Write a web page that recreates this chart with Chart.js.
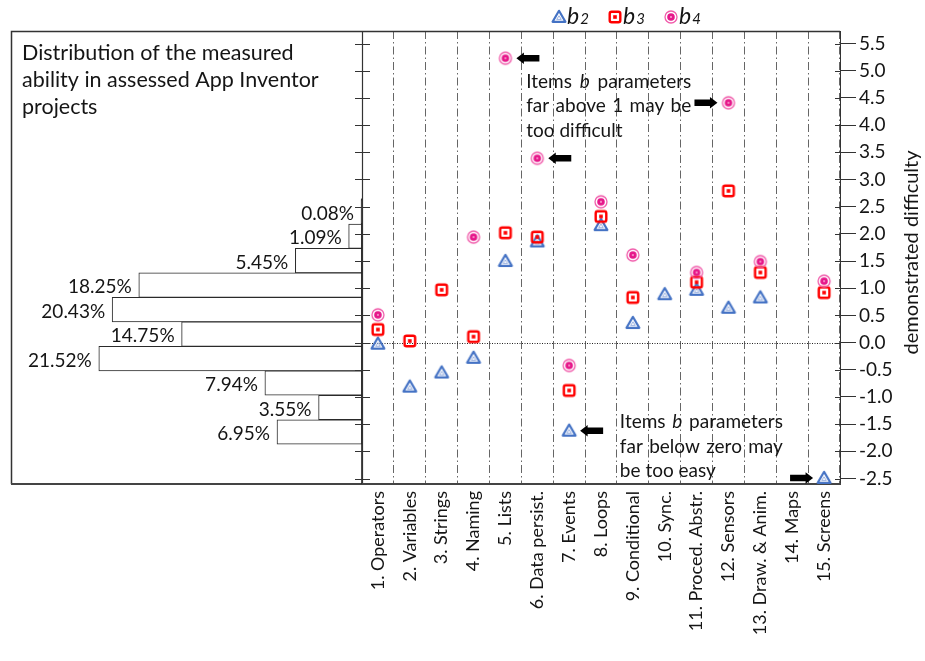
<!DOCTYPE html>
<html>
<head>
<meta charset="utf-8">
<script src="https://cdn.jsdelivr.net/npm/chart.js@4.4.0/dist/chart.umd.min.js"></script>
<style>
  html, body { margin: 0; padding: 0; background: #fff; }
  #wrap { position: relative; width: 925px; height: 661px; }
  #wrap canvas { position: absolute; left: 0; top: 0; }
</style>
</head>
<body>
<div id="wrap">
  <canvas id="histChart" width="925" height="661"></canvas>
  <canvas id="itemChart" width="925" height="661"></canvas>
</div>
<script>
// item difficulty (b parameters) per assessed concept
const items = ['1. Operators', '2. Variables', '3. Strings', '4. Naming', '5. Lists', '6. Data persist.',
    '7. Events', '8. Loops', '9. Conditional', '10. Sync.', '11. Proced. Abstr.', '12. Sensors',
    '13. Draw. & Anim.', '14. Maps', '15. Screens'];
const b2 = [-0.02, -0.81, -0.55, -0.28, 1.50, 1.86, -1.62, 2.16, 0.36, 0.89, 0.97, 0.64, 0.83, null, -2.49];
const b3 = [0.24, 0.03, 0.97, 0.11, 2.02, 1.94, -0.88, 2.32, 0.83, null, 1.11, 2.79, 1.29, null, 0.92];
const b4 = [0.51, null, null, 1.94, 5.23, 3.39, -0.42, 2.59, 1.61, null, 1.29, 4.41, 1.49, null, 1.13];

// distribution of measured ability (bin centre, share in %)
const abilityBins = [2.5, 2.0, 1.5, 1.0, 0.5, 0.0, -0.5, -1.0, -1.5, -2.0];
const abilityShare = [0.08, 1.09, 5.45, 18.25, 20.43, 14.75, 21.52, 7.94, 3.55, 6.95];

const yMin = -2.6;
const yMax = 5.73;

const FONT = 'Lato';
const TEXT = '#151515';
Chart.defaults.font.family = FONT;
Chart.defaults.color = TEXT;

function makeMarker(kind) {
    const c = document.createElement('canvas');
    c.width = 18;
    c.height = 18;
    const g = c.getContext('2d');
    g.translate(9, 9);
    if (kind === 'tri') {
        g.strokeStyle = '#4472C4';
        g.lineWidth = 2.2;
        g.lineJoin = 'round';
        g.beginPath();
        g.moveTo(0, -6.2); g.lineTo(6.4, 4.8); g.lineTo(-6.4, 4.8); g.closePath();
        g.stroke();
        g.lineWidth = 0.9;
        g.strokeStyle = '#8fa9dc';
        g.beginPath();
        g.moveTo(0, -1.2); g.lineTo(2.3, 2.4); g.lineTo(-2.3, 2.4); g.closePath();
        g.stroke();
    } else if (kind === 'sq') {
        g.strokeStyle = '#FF0000';
        g.lineWidth = 2.4;
        g.lineJoin = 'round';
        g.beginPath();
        g.roundRect(-5.3, -5.3, 10.6, 10.6, 2);
        g.stroke();
        g.fillStyle = '#FF0000';
        g.fillRect(-1.8, -1.8, 3.6, 3.6);
    } else {
        g.strokeStyle = '#F05AAA';
        g.lineWidth = 1.3;
        g.beginPath();
        g.arc(0, 0, 6, 0, Math.PI * 2);
        g.stroke();
        g.fillStyle = '#E6178A';
        g.beginPath();
        g.arc(0, 0, 3.8, 0, Math.PI * 2);
        g.fill();
        g.fillStyle = '#f7a8d2';
        g.beginPath();
        g.arc(0, 0, 1, 0, Math.PI * 2);
        g.fill();
    }
    return c;
}

const markers = [makeMarker('tri'), makeMarker('sq'), makeMarker('circ')];

// --- left part: ability histogram ---
const histPlugin = {
    id: 'histDecor',
    afterDatasetsDraw(chart) {
        const ctx = chart.ctx;
        const area = chart.chartArea;
        const meta = chart.getDatasetMeta(0);
        ctx.save();
        ctx.font = '19px ' + FONT;
        ctx.fillStyle = TEXT;
        ctx.textAlign = 'right';
        ctx.textBaseline = 'middle';
        meta.data.forEach((el, i) => {
            const left = Math.min(el.x, el.base);
            ctx.fillText(abilityShare[i].toFixed(2) + '%', left - 7, el.y + 2);
        });

        // title block
        ctx.textAlign = 'left';
        ctx.font = '21.5px ' + FONT;
        ['Distribution of the measured', 'ability in assessed App Inventor', 'projects'].forEach((t, i) => {
            ctx.fillText(t, area.left + 11, area.top + 22 + i * 27);
        });

        // frame
        ctx.strokeStyle = '#333';
        ctx.lineWidth = 1.5;
        ctx.beginPath();
        ctx.moveTo(area.right, area.top + 0.5);
        ctx.lineTo(area.left + 0.5, area.top + 0.5);
        ctx.lineTo(area.left + 0.5, area.bottom);
        ctx.stroke();
        ctx.strokeStyle = '#444';
        ctx.lineWidth = 2.2;
        ctx.beginPath();
        ctx.moveTo(area.left, area.bottom);
        ctx.lineTo(area.right, area.bottom);
        ctx.stroke();
        // histogram axis
        const yTop = chart.scales.y.getPixelForValue(2.77);
        ctx.strokeStyle = '#222';
        ctx.lineWidth = 1.6;
        ctx.beginPath();
        ctx.moveTo(area.right, yTop);
        ctx.lineTo(area.right, area.bottom);
        ctx.stroke();
        ctx.restore();
    }
};

new Chart(document.getElementById('histChart'), {
    type: 'bar',
    data: {
        datasets: [{
            data: abilityBins.map((b, i) => ({ x: abilityShare[i], y: b })),
            backgroundColor: '#fff',
            borderColor: '#2a2a2a',
            borderWidth: 1,
            borderSkipped: false,
            barPercentage: 1,
            categoryPercentage: 1
        }]
    },
    options: {
        indexAxis: 'y',
        responsive: false,
        animation: false,
        events: [],
        layout: { padding: { left: 11, right: 563, top: 31, bottom: 177 } },
        plugins: { legend: { display: false }, tooltip: { enabled: false } },
        scales: {
            x: { type: 'linear', reverse: true, min: 0, max: 28.7, display: false },
            y: { type: 'linear', min: yMin, max: yMax, display: false }
        }
    },
    plugins: [histPlugin]
});

// --- right part: item b parameters ---
const arrowMarks = [
    { set: 2, idx: 4, dir: -1 },
    { set: 2, idx: 5, dir: -1 },
    { set: 2, idx: 11, dir: 1 },
    { set: 0, idx: 6, dir: -1 },
    { set: 0, idx: 14, dir: 1 }
];

function drawArrow(ctx, tipX, tipY, dir) {
    // dir -1: pointing left, 1: pointing right
    const len = 23, head = 7.5, hh = 5.8, sh = 3.3;
    ctx.beginPath();
    ctx.moveTo(tipX, tipY);
    ctx.lineTo(tipX - dir * head, tipY - hh);
    ctx.lineTo(tipX - dir * head, tipY - sh);
    ctx.lineTo(tipX - dir * len, tipY - sh);
    ctx.lineTo(tipX - dir * len, tipY + sh);
    ctx.lineTo(tipX - dir * head, tipY + sh);
    ctx.lineTo(tipX - dir * head, tipY + hh);
    ctx.closePath();
    ctx.fill();
}

function drawJustified(ctx, lines, x, y, width, lh) {
    const normal = '19px ' + FONT;
    const italic = 'italic 19px ' + FONT;
    ctx.font = normal;
    const spaceW = ctx.measureText(' ').width;
    lines.forEach((line, li) => {
        const words = line.split(' ');
        const fonts = words.map(w => (w === 'b' ? italic : normal));
        const widths = words.map((w, k) => { ctx.font = fonts[k]; return ctx.measureText(w).width; });
        const total = widths.reduce((a, b) => a + b, 0);
        const last = li === lines.length - 1;
        const gap = last ? spaceW : (width - total) / (words.length - 1);
        let cx = x;
        words.forEach((w, k) => {
            ctx.font = fonts[k];
            ctx.fillText(w, cx, y + li * lh);
            cx += widths[k] + gap;
        });
    });
}

const itemPlugin = {
    id: 'itemDecor',
    beforeDatasetsDraw(chart) {
        const ctx = chart.ctx;
        const area = chart.chartArea;
        const y = chart.scales.y;
        ctx.save();
        // zero line
        const y0 = Math.round(y.getPixelForValue(0)) + 0.5;
        ctx.strokeStyle = '#222';
        ctx.lineWidth = 1;
        ctx.setLineDash([1, 1.5]);
        ctx.beginPath();
        ctx.moveTo(area.left, y0);
        ctx.lineTo(area.right, y0);
        ctx.stroke();
        ctx.setLineDash([]);

        // frame
        ctx.strokeStyle = '#333';
        ctx.lineWidth = 1.5;
        ctx.beginPath();
        ctx.moveTo(area.left, area.top + 0.5);
        ctx.lineTo(area.right, area.top + 0.5);
        ctx.stroke();
        ctx.lineWidth = 1.2;
        ctx.beginPath();
        ctx.moveTo(area.left + 0.5, area.top);
        ctx.lineTo(area.left + 0.5, area.bottom);
        ctx.stroke();
        ctx.strokeStyle = '#444';
        ctx.lineWidth = 2.2;
        ctx.beginPath();
        ctx.moveTo(area.left, area.bottom);
        ctx.lineTo(area.right + 1, area.bottom);
        ctx.stroke();

        // ticks crossing the middle axis and inner half of right ticks
        ctx.strokeStyle = '#333';
        ctx.lineWidth = 1;
        y.ticks.forEach(t => {
            const py = Math.round(y.getPixelForValue(t.value)) + 0.5;
            ctx.beginPath();
            ctx.moveTo(area.left - 7, py);
            ctx.lineTo(area.left + 8, py);
            ctx.moveTo(area.right - 5, py);
            ctx.lineTo(area.right, py);
            ctx.stroke();
        });

        // annotations
        const x = chart.scales.x;
        ctx.fillStyle = TEXT;
        ctx.textAlign = 'left';
        ctx.textBaseline = 'middle';
        drawJustified(ctx, ['Items b parameters', 'far above 1 may be', 'too difficult'],
            x.getPixelForValue(5) - 11, y.getPixelForValue(4.8), 165, 24.5);
        drawJustified(ctx, ['Items b parameters', 'far below zero may', 'be too easy'],
            x.getPixelForValue(8) - 13, y.getPixelForValue(-1.46), 163, 24.5);
        ctx.restore();
    },
    afterDraw(chart) {
        const ctx = chart.ctx;
        const area = chart.chartArea;
        ctx.save();
        ctx.fillStyle = '#000';
        arrowMarks.forEach(a => {
            const pt = chart.getDatasetMeta(a.set).data[a.idx];
            drawArrow(ctx, pt.x - a.dir * 11, pt.y, a.dir);
        });

        // legend
        const names = ['2', '3', '4'];
        names.forEach((n, i) => {
            const lx = area.left + 197 + i * 56;
            const ly = 17;
            ctx.drawImage(markers[i], lx - 9, ly - 9);
            ctx.fillStyle = TEXT;
            ctx.textAlign = 'left';
            ctx.textBaseline = 'alphabetic';
            ctx.font = 'italic 23px ' + FONT;
            ctx.fillText('b', lx + 8, 24);
            const bw = ctx.measureText('b').width;
            ctx.font = 'italic 15px ' + FONT;
            ctx.fillText(n, lx + 8 + bw + 1, 24);
        });

        // right axis title
        ctx.translate(area.right + 72, (area.top + area.bottom) / 2 - 5);
        ctx.rotate(-Math.PI / 2);
        ctx.font = '20px ' + FONT;
        ctx.textAlign = 'center';
        ctx.textBaseline = 'middle';
        ctx.fillText('demonstrated difficulty', 0, 0);
        ctx.restore();
    }
};

new Chart(document.getElementById('itemChart'), {
    type: 'line',
    data: {
        labels: items,
        datasets: [
            { label: 'b2', data: b2, order: 3 },
            { label: 'b3', data: b3, order: 2 },
            { label: 'b4', data: b4, order: 1 }
        ].map((d, i) => Object.assign(d, {
            showLine: false,
            pointStyle: markers[i],
            pointRadius: 7
        }))
    },
    options: {
        responsive: false,
        animation: false,
        events: [],
        layout: { padding: { left: 362, right: 25, top: 31, bottom: 27 } },
        plugins: { legend: { display: false }, tooltip: { enabled: false } },
        scales: {
            x: {
                type: 'category',
                offset: true,
                afterFit: s => { s.height = 150; },
                ticks: { minRotation: 90, maxRotation: 90, autoSkip: false, padding: 7, font: { size: 18 }, color: TEXT },
                grid: { offset: true, drawTicks: false, color: '#666', lineWidth: 1 },
                border: { display: false, dash: [8, 3, 1.5, 3] }
            },
            y: {
                type: 'linear',
                position: 'right',
                min: yMin,
                max: yMax,
                afterFit: s => { s.width = 60; },
                ticks: {
                    stepSize: 0.5,
                    includeBounds: false,
                    padding: 3,
                    font: { size: 19 },
                    color: TEXT,
                    callback: v => v.toFixed(1)
                },
                grid: { drawOnChartArea: false, drawTicks: true, tickLength: 16, color: '#333' },
                border: { display: true, color: '#333', width: 1 }
            }
        }
    },
    plugins: [itemPlugin]
});
</script>
</body>
</html>
